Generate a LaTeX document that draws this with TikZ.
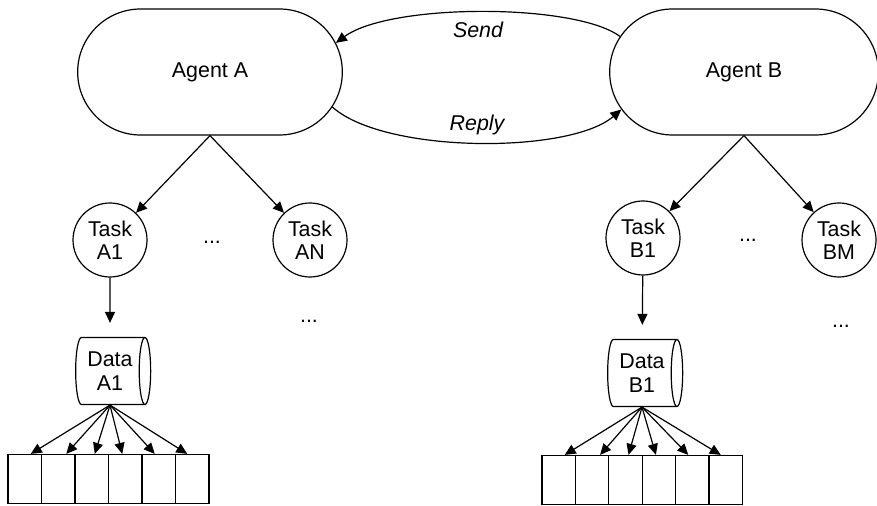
\documentclass[tikz,border=0pt]{standalone}
\usepackage{fontspec}
\setmainfont{Liberation Sans}
\usetikzlibrary{shapes.misc,shapes.geometric,arrows.meta}
\tikzset{
    agentbox/.style={draw, rounded rectangle, minimum width=139pt, minimum height=63pt},
    taskcirc/.style={draw, circle, minimum size=37pt, inner sep=0pt, align=center},
    datastore/.style={draw, cylinder, shape aspect=0.3, minimum width=33.5pt, minimum height=37.5pt, inner sep=0pt, align=center},
    cellbox/.style={draw, rectangle, minimum width=16.75pt, minimum height=24.5pt, inner sep=0pt},
    msg/.style={-{Triangle[length=5.5pt,width=5pt]}},
}
\begin{document}
\begin{tikzpicture}[x=0.5pt, y=-0.5pt, line width=0.6pt, font=\fontsize{10.7pt}{11.7pt}\selectfont, >={Triangle[length=5.5pt,width=5pt]}]
        \useasboundingbox (0,0) rectangle (877,506);
        % agents
        \node[agentbox] (agentA) at (210,72) {Agent A};
        \node[agentbox, minimum width=141pt] (agentB) at (744,72) {Agent B};
        \draw[msg] (agentB.164) .. controls (575,3) and (390,3) .. (agentA.13);
        \draw[msg] (agentA.-16) .. controls (385,154) and (570,154) .. (agentB.197);
        \node[font=\fontsize{10.7pt}{12pt}\itshape] (send) at (478,30) {Send};
        \node[font=\fontsize{10.7pt}{12pt}\itshape] (reply) at (477,125) {Reply};
        % tasks
        \node[taskcirc] (taskA1) at (110,240) {Task\\A1};
        \node[taskcirc] (taskAN) at (310,240) {Task\\AN};
        \node[taskcirc] (taskB1) at (643,238) {Task\\B1};
        \node[taskcirc] (taskBM) at (839,240) {Task\\BM};
        \node (dotsA) at (212,242) {...};
        \node (dotsB) at (748,240) {...};
        \node (moreA) at (309,321) {...};
        \node (moreB) at (841,326) {...};
        \draw[->] (agentA.south) -- (taskA1);
        \draw[->] (agentA.south) -- (taskAN);
        \draw[->] (agentB.south) -- (taskB1);
        \draw[->] (agentB.south) -- (taskBM);
        % data stores
        \node[datastore] (dataA1) at (110,371) {Data\\A1};
        \node[datastore] (dataB1) at (642,373) {Data\\B1};
        \draw[->, shorten >=7pt] (taskA1) -- (dataA1);
        \draw[->, shorten >=7pt] (taskB1) -- (dataB1);
        % arrays
        \foreach \i/\dx in {1/6,2/8,3/3,4/-3,5/-4,6/-5} {
            \node[cellbox] (cellA\i) at ({8+33.5*(\i-0.5)},479) {};
            \node[cellbox] (cellB\i) at ({542+33.4*(\i-0.5)},480) {};
            \draw[->] (dataA1.south) -- ([xshift=\dx*0.5pt]cellA\i.north);
            \draw[->] (dataB1.south) -- ([xshift=\dx*0.5pt]cellB\i.north);
        }
    \end{tikzpicture}
\end{document}
